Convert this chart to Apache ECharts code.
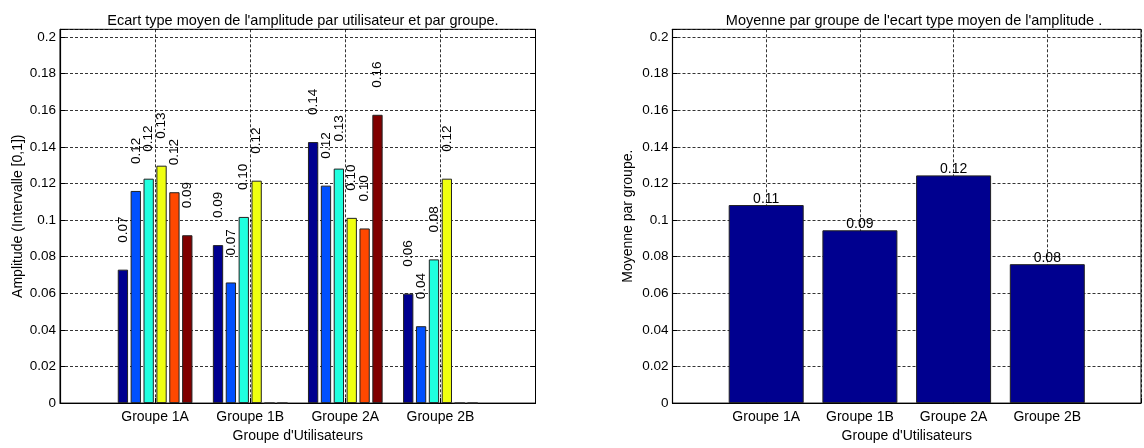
<!DOCTYPE html>
<html>
<head>
<meta charset="utf-8" />
<title>Ecart type moyen</title>
<script src="https://cdn.jsdelivr.net/npm/echarts@6/dist/echarts.min.js"></script>
<style>
  * { margin: 0; padding: 0; }
  html, body { width: 1144px; height: 448px; background: #fff; overflow: hidden; }
  #main { width: 1144px; height: 448px; }
</style>
</head>
<body>
<div id="main"></div>
<script type="text/javascript">
// groups (x axis)
const categories = ['Groupe 1A', 'Groupe 1B', 'Groupe 2A', 'Groupe 2B'];

// left chart: one array per user (bar colour)
const user1 = [0.0729, 0.0863, 0.1426, 0.0598];
const user2 = [0.1159, 0.0659, 0.1188, 0.0420];
const user3 = [0.1226, 0.1017, 0.1281, 0.0785];
const user4 = [0.1297, 0.1215, 0.1012, 0.1226];
const user5 = [0.1152, 0, 0.0954, 0];
const user6 = [0.0917, 0, 0.1575, 0];

// right chart: mean per group
const groupMeans = [0.1082, 0.0944, 0.1244, 0.0759];

// y tick labels
const yTicks = [0, 0.02, 0.04, 0.06, 0.08, 0.1, 0.12, 0.14, 0.16, 0.18, 0.2];

const userColors = ['#00008F', '#0050FF', '#20FFDF', '#EFFF10', '#FF4800', '#800000'];
const FONT = 'Liberation Sans, Arial, sans-serif';

// padded category axis: x from 0 to 5, groups at 1..4
const xData = [''].concat(categories, ['']);
const pad = arr => [null].concat(arr, [null]);

const tickLabel = v => {
  const hit = yTicks.find(t => Math.abs(t - v) < 1e-6);
  return hit === undefined ? '' : String(hit);
};

const gridLine = { show: true, lineStyle: { color: '#000', width: 0.8, type: [3, 2] } };

function xAxisFor(idx) {
  return {
    type: 'category', gridIndex: idx, data: xData, boundaryGap: false,
    axisLine: { lineStyle: { color: '#000', width: 1.2 } },
    axisTick: { inside: true, length: 5, alignWithLabel: true, lineStyle: { color: '#000' } },
    axisLabel: { interval: 0, color: '#000', fontSize: 14, fontFamily: FONT, margin: 7 },
    splitLine: Object.assign({ interval: 0 }, gridLine),
    name: "Groupe d'Utilisateurs", nameLocation: 'middle', nameGap: 24,
    nameTextStyle: { color: '#000', fontSize: 14, fontFamily: FONT }
  };
}

function yAxisFor(idx, name, nameGap) {
  return {
    type: 'value', gridIndex: idx, min: 0, max: 0.2042, interval: 0.02,
    axisLine: { show: true, lineStyle: { color: '#000', width: 1.2 } },
    axisTick: { show: true, inside: true, length: 5, lineStyle: { color: '#000' } },
    axisLabel: { color: '#000', fontSize: 13.5, fontFamily: FONT, margin: 4, formatter: tickLabel },
    splitLine: gridLine,
    name: name, nameLocation: 'middle', nameGap: nameGap,
    nameTextStyle: { color: '#000', fontSize: 14, fontFamily: FONT }
  };
}

const userArrays = [user1, user2, user3, user4, user5, user6];
const leftSeries = userArrays.map((arr, i) => ({
  type: 'bar', xAxisIndex: 0, yAxisIndex: 0,
  data: pad(arr),
  barWidth: 10.3, barGap: '25%',
  itemStyle: { color: userColors[i], borderColor: '#222', borderWidth: 1 },
  label: {
    show: true, position: 'top', distance: 27, rotate: 90,
    align: 'left', verticalAlign: 'middle',
    color: '#000', fontSize: 13.5, fontFamily: FONT,
    formatter: p => (p.value ? p.value.toFixed(2) : '')
  },
  z: 3
}));

const myChart = echarts.init(document.getElementById('main'));
const option = {
  animation: false,
  backgroundColor: '#fff',
  title: [
    { text: "Ecart type moyen de l'amplitude par utilisateur et par groupe.", left: 298, top: 8, textAlign: 'center',
      textStyle: { color: '#000', fontSize: 14.5, fontWeight: 'normal', fontFamily: FONT } },
    { text: "Moyenne par groupe de l'ecart type moyen de l'amplitude .", left: 909, top: 8, textAlign: 'center',
      textStyle: { color: '#000', fontSize: 14.5, fontWeight: 'normal', fontFamily: FONT } }
  ],
  grid: [
    { left: 60, top: 29.3, width: 475.5, height: 374.7, show: true, borderColor: '#000', borderWidth: 1 },
    { left: 672.5, top: 29.3, width: 475, height: 375, show: true, borderColor: '#000', borderWidth: 1 }
  ],
  xAxis: [xAxisFor(0), xAxisFor(1)],
  yAxis: [
    yAxisFor(0, 'Amplitude (Intervalle [0,1])', 35),
    yAxisFor(1, 'Moyenne par groupe.', 37),
    { type: 'value', gridIndex: 0, position: 'right', min: 0, max: 0.2042, interval: 0.02,
      axisLine: { show: false }, axisLabel: { show: false }, splitLine: { show: false },
      axisTick: { show: true, inside: true, length: 5, lineStyle: { color: '#000' } } }
  ],
  series: leftSeries.concat([
    {
      type: 'bar', xAxisIndex: 1, yAxisIndex: 1,
      data: pad(groupMeans),
      barWidth: 75,
      itemStyle: { color: '#00008F', borderColor: '#222', borderWidth: 1 },
      label: {
        show: true, position: 'top', distance: -1,
        color: '#000', fontSize: 14, fontFamily: FONT,
        formatter: p => p.value.toFixed(2)
      },
      z: 3
    }
  ])
};
myChart.setOption(option);
</script>
</body>
</html>
